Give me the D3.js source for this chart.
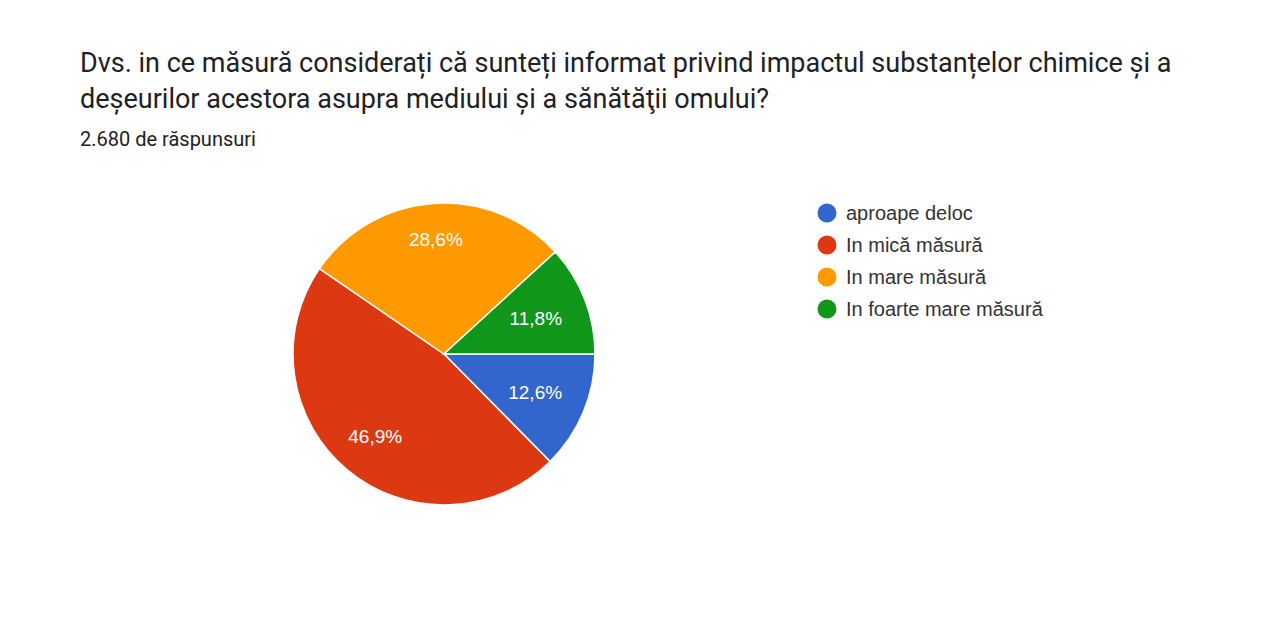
<!DOCTYPE html>
<html>
<head>
<meta charset="utf-8">
<script src="https://cdn.jsdelivr.net/npm/d3@7"></script>
<style>
  html, body { margin: 0; padding: 0; background: #fff; }
  svg { display: block; }
</style>
</head>
<body>
<svg id="chart" width="1280" height="623"></svg>
<script>
// date
var titleLines = [
  "Dvs. in ce măsură considerați că sunteți informat privind impactul substanțelor chimice și a",
  "deșeurilor acestora asupra mediului și a sănătăţii omului?"
];
var subtitle = "2.680 de răspunsuri";
var categories = ["aproape deloc", "In mică măsură", "In mare măsură", "In foarte mare măsură"];
var values = [12.6, 46.9, 28.6, 11.8];
var colors = ["#3366cc", "#dc3912", "#ff9900", "#109618"];

var svg = d3.select("#chart");

// titlu
svg.selectAll("text.title")
  .data(titleLines)
  .enter().append("text")
    .attr("class", "title")
    .attr("x", 80)
    .attr("y", function(d, i){ return 72 + i * 36; })
    .style("font-family", "Roboto, sans-serif")
    .style("font-size", "27px")
    .style("fill", "#202124")
    .text(function(d){ return d; });

svg.append("text")
  .attr("x", 80)
  .attr("y", 146)
  .style("font-family", "Roboto, sans-serif")
  .style("font-size", "20px")
  .style("fill", "#202124")
  .text(subtitle);

// pie
var cx = 444, cy = 354, r = 151;
var g = svg.append("g").attr("transform", "translate(" + cx + "," + cy + ")");

var pie = d3.pie()
  .sort(null)
  .startAngle(Math.PI / 2)
  .endAngle(Math.PI / 2 + 2 * Math.PI)
  .value(function(d){ return d; });

var arc = d3.arc().innerRadius(0).outerRadius(r);
var arcs = pie(values);

g.selectAll("path")
  .data(arcs)
  .enter().append("path")
    .attr("d", arc)
    .attr("fill", function(d, i){ return colors[i]; })
    .attr("stroke", "#fff")
    .attr("stroke-width", 1.5);

// etichete: mai departe de centru cand slice-ul e vertical
g.selectAll("text.lbl")
  .data(arcs)
  .enter().append("text")
    .attr("class", "lbl")
    .attr("transform", function(d){
      var a = (d.startAngle + d.endAngle) / 2;
      var s = Math.cos(a);
      var rr = 96 + 19 * s * s;
      return "translate(" + (rr * Math.sin(a)) + "," + (-rr * Math.cos(a)) + ")";
    })
    .attr("text-anchor", "middle")
    .attr("dy", "0.36em")
    .style("font-family", "'Liberation Sans', Arial, sans-serif")
    .style("font-size", "19px")
    .style("fill", "#fff")
    .text(function(d){ return d3.format(".1f")(d.data).replace(".", ",") + "%"; });

// legenda
var leg = svg.append("g").attr("transform", "translate(827,213)");
var items = leg.selectAll("g")
  .data(categories)
  .enter().append("g")
    .attr("transform", function(d, i){ return "translate(0," + i * 32 + ")"; });

items.append("circle")
  .attr("r", 9.5)
  .attr("fill", function(d, i){ return colors[i]; });

items.append("text")
  .attr("x", 19)
  .attr("y", 7)
  .style("font-family", "'Liberation Sans', Arial, sans-serif")
  .style("font-size", "20px")
  .style("fill", "#333")
  .text(function(d){ return d; });
</script>
</body>
</html>
